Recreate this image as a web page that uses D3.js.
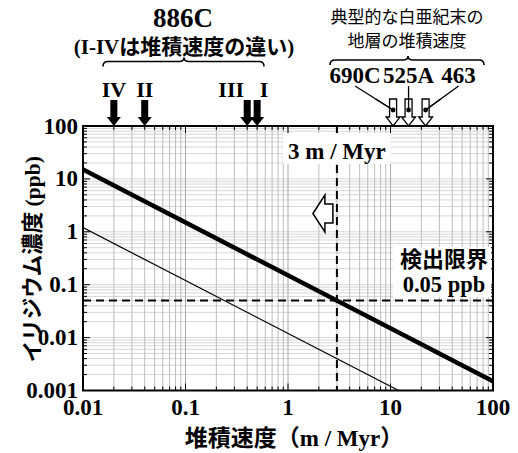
<!DOCTYPE html>
<html><head><meta charset="utf-8">
<script src="https://cdn.jsdelivr.net/npm/d3@7"></script>
<style>body{margin:0;background:#fff}svg{display:block}</style>
</head><body><svg id="chart" width="518" height="453"></svg>
<script>
// Axis ticks
const xTicks = [0.01, 0.1, 1, 10, 100];
const xTickLabels = ["0.01", "0.1", "1", "10", "100"];
const yTicks = [0.001, 0.01, 0.1, 1, 10, 100];
const yTickLabels = ["0.001", "0.01", "0.1", "1", "10", "100"];

// Sedimentation rates at Site 886C (intervals I-IV)
const site886Labels = ["IV", "II", "III", "I"];
const site886Rates = [0.02, 0.04, 0.4, 0.5];

// Typical end-Cretaceous sedimentation rates
const kpgSites = ["690C", "525A", "463"];
const kpgRates = [10.6, 15, 22];

// Iridium concentration vs sedimentation rate
const thickRates = [0.01, 100];
const thickIr = [15, 0.0015];
const thinRates = [0.01, 12];
const thinIr = [1.2, 0.001];

const detectionLimit = 0.05;
const criticalRate = 3;

const SERIF = "'Liberation Serif','Times New Roman','Noto Sans CJK JP',serif";
const CJK = "'Noto Sans CJK JP','Noto Sans CJK SC',sans-serif";

const svg = d3.select("#chart");
const L = 83, R = 493, T = 126, B = 390.5;
const x = d3.scaleLog().domain([0.01, 100]).range([L, R]);
const y = d3.scaleLog().domain([0.001, 100]).range([B, T]);

// all 1..9 multiples within each domain
function logSteps(lo, hi) {
  const out = [];
  for (let d = lo; d < hi * 0.999; d *= 10)
    for (let m = 1; m <= 9; m++) out.push(+(m * d).toPrecision(3));
  out.push(hi);
  return out;
}
const xGrid = logSteps(0.01, 100);
const yGrid = logSteps(0.001, 100);
const isMajor = v => Math.abs(Math.log10(v) - Math.round(Math.log10(v))) < 1e-6;

svg.append("clipPath").attr("id", "plot").append("rect")
  .attr("x", L).attr("y", T).attr("width", R - L).attr("height", B - T);

// grid
const grid = svg.append("g");
grid.selectAll("line.h").data(yGrid).join("line")
  .attr("x1", L).attr("x2", R).attr("y1", d => y(d)).attr("y2", d => y(d))
  .attr("stroke", "#d6d6d6").attr("stroke-width", 1);
grid.selectAll("line.v").data(xGrid).join("line")
  .attr("y1", T).attr("y2", B).attr("x1", d => x(d)).attr("x2", d => x(d))
  .attr("stroke", d => isMajor(d) ? "#a8a8a8" : "#bdbdbd").attr("stroke-width", 1);

// inward ticks on all four sides
const ticks = svg.append("g").attr("stroke", "#000").attr("stroke-width", 1);
yGrid.forEach(v => {
  const len = isMajor(v) ? 7 : 4;
  ticks.append("line").attr("x1", L).attr("x2", L + len).attr("y1", y(v)).attr("y2", y(v));
  ticks.append("line").attr("x1", R).attr("x2", R - len).attr("y1", y(v)).attr("y2", y(v));
});
xGrid.forEach(v => {
  const len = isMajor(v) ? 7 : 4;
  ticks.append("line").attr("y1", B).attr("y2", B - len).attr("x1", x(v)).attr("x2", x(v));
  ticks.append("line").attr("y1", T).attr("y2", T + len).attr("x1", x(v)).attr("x2", x(v));
});

// detection limit and critical rate
svg.append("line").attr("x1", L).attr("x2", R)
  .attr("y1", y(detectionLimit)).attr("y2", y(detectionLimit))
  .attr("stroke", "#000").attr("stroke-width", 2).attr("stroke-dasharray", "8,5");
svg.append("line").attr("y1", T).attr("y2", B)
  .attr("x1", x(criticalRate)).attr("x2", x(criticalRate))
  .attr("stroke", "#000").attr("stroke-width", 2).attr("stroke-dasharray", "8,5");

// concentration curves
const line = d3.line().x(d => x(d[0])).y(d => y(d[1]));
const curves = svg.append("g").attr("clip-path", "url(#plot)");
curves.append("path").attr("d", line(d3.zip(thickRates, thickIr)))
  .attr("fill", "none").attr("stroke", "#000").attr("stroke-width", 4.5);
curves.append("path").attr("d", line(d3.zip(thinRates, thinIr)))
  .attr("fill", "none").attr("stroke", "#000").attr("stroke-width", 1.2);

// frame
svg.append("rect").attr("x", L).attr("y", T).attr("width", R - L).attr("height", B - T)
  .attr("fill", "none").attr("stroke", "#000").attr("stroke-width", 2);

// "3 m / Myr" label
const cx = x(criticalRate);
svg.append("rect").attr("x", cx - 54).attr("y", T + 7).attr("width", 108).attr("height", 31).attr("fill", "#fff");
svg.append("text").attr("x", cx).attr("y", 159).attr("text-anchor", "middle")
  .attr("font-family", SERIF).attr("font-weight", "bold").attr("font-size", 23)
  .text("3 m / Myr");

// left-pointing open arrow
{
  const ax = cx - 4, ay = 213.5;
  const pts = [[ax, ay - 9.5], [ax - 8, ay - 9.5], [ax - 8, ay - 18.5], [ax - 20, ay],
               [ax - 8, ay + 18.5], [ax - 8, ay + 9.5], [ax, ay + 9.5]];
  svg.append("path").attr("d", "M" + pts.join("L") + "Z")
    .attr("fill", "#fff").attr("stroke", "#000").attr("stroke-width", 1.5);
}

// detection limit label
const dlx = 444;
svg.append("rect").attr("x", dlx - 51).attr("y", 247).attr("width", 98).attr("height", 50).attr("fill", "#fff");
svg.append("text").attr("x", dlx).attr("y", 267).attr("text-anchor", "middle")
  .attr("font-family", CJK).attr("font-weight", "bold").attr("font-size", 22).text("検出限界");
svg.append("text").attr("x", dlx).attr("y", 292).attr("text-anchor", "middle")
  .attr("font-family", SERIF).attr("font-weight", "bold").attr("font-size", 22.5).text("0.05 ppb");

// tick labels
svg.append("g").selectAll("text").data(xTicks).join("text")
  .attr("x", d => x(d)).attr("y", 415).attr("text-anchor", "middle")
  .attr("font-family", SERIF).attr("font-weight", "bold").attr("font-size", 23)
  .text((d, i) => xTickLabels[i]);
svg.append("g").selectAll("text").data(yTicks).join("text")
  .attr("x", 78).attr("y", d => y(d) + 7.5).attr("text-anchor", "end")
  .attr("font-family", SERIF).attr("font-weight", "bold").attr("font-size", 23)
  .text((d, i) => yTickLabels[i]);

// axis titles
svg.append("text").attr("x", 294).attr("y", 446).attr("text-anchor", "middle")
  .attr("font-family", SERIF).attr("font-weight", "bold").attr("font-size", 23)
  .text("堆積速度（m / Myr）");
svg.append("text").attr("transform", `translate(40,${(T + B) / 2 + 1}) rotate(-90)`)
  .attr("text-anchor", "middle")
  .attr("font-family", SERIF).attr("font-weight", "bold").attr("font-size", 21.5)
  .text("イリジウム濃度 (ppb)");

// curly brace opening downward
function brace(x0, x1, yb, tip) {
  const m = tip;
  return `M${x0},${yb + 5} Q${x0},${yb} ${x0 + 5},${yb} L${m - 5},${yb} Q${m},${yb} ${m},${yb - 4}` +
         ` Q${m},${yb} ${m + 5},${yb} L${x1 - 5},${yb} Q${x1},${yb} ${x1},${yb + 5}`;
}

// Site 886C header
svg.append("text").attr("x", 183).attr("y", 27).attr("text-anchor", "middle")
  .attr("font-family", SERIF).attr("font-weight", "bold").attr("font-size", 27).text("886C");
svg.append("text").attr("x", 184).attr("y", 53.5).attr("text-anchor", "middle")
  .attr("font-family", SERIF).attr("font-weight", "bold").attr("font-size", 21)
  .text("(I-IVは堆積速度の違い)");
svg.append("path").attr("d", brace(103, 264, 61.5, 184))
  .attr("fill", "none").attr("stroke", "#000").attr("stroke-width", 1.6);

const numeralShift = { "IV": 0, "II": 0, "III": -16, "I": 7 };
site886Rates.forEach((r, i) => {
  const ax = x(r);
  const pts = [[ax - 3.5, 100], [ax + 3.5, 100], [ax + 3.5, 117], [ax + 7, 117], [ax, 126],
               [ax - 7, 117], [ax - 3.5, 117]];
  svg.append("path").attr("d", "M" + pts.join("L") + "Z").attr("fill", "#000");
  svg.append("text").attr("x", ax + numeralShift[site886Labels[i]]).attr("y", 97)
    .attr("text-anchor", "middle").attr("font-family", SERIF).attr("font-weight", "bold")
    .attr("font-size", 22).text(site886Labels[i]);
});

// typical K-Pg sites header (two lines)
const kpgHead = svg.append("g").attr("text-anchor", "middle")
  .attr("font-family", CJK).attr("font-size", 17);
kpgHead.append("text").attr("x", 407).attr("y", 22.5).text("典型的な白亜紀末の");
kpgHead.append("text").attr("x", 407).attr("y", 47.3).text("地層の堆積速度");
svg.append("path").attr("d", brace(330, 484, 60, 408))
  .attr("fill", "none").attr("stroke", "#000").attr("stroke-width", 1.6);

const siteShift = { "690C": -38, "525A": 0, "463": 33 };
kpgRates.forEach((r, i) => {
  const ax = x(r);
  const lx = ax + siteShift[kpgSites[i]];
  svg.append("line").attr("x1", lx).attr("y1", 86).attr("x2", ax).attr("y2", 110)
    .attr("stroke", "#000").attr("stroke-width", 1.3);
  svg.append("text").attr("x", lx).attr("y", 83).attr("text-anchor", "middle")
    .attr("font-family", SERIF).attr("font-weight", "bold").attr("font-size", 23).text(kpgSites[i]);
});
kpgRates.forEach(r => {
  const ax = x(r);
  const pts = [[ax - 3.5, 99], [ax + 3.5, 99], [ax + 3.5, 117], [ax + 7, 117], [ax, 126],
               [ax - 7, 117], [ax - 3.5, 117]];
  svg.append("path").attr("d", "M" + pts.join("L") + "Z")
    .attr("fill", "#fff").attr("stroke", "#000").attr("stroke-width", 1.3);
  svg.append("circle").attr("cx", ax).attr("cy", 110).attr("r", 2.4).attr("fill", "#000");
});
// leader lines drawn above arrow bodies
kpgRates.forEach((r, i) => {
  const ax = x(r);
  const lx = ax + siteShift[kpgSites[i]];
  const t = (99 - 86) / (110 - 86);
  svg.append("line").attr("x1", lx + (ax - lx) * t).attr("y1", 99).attr("x2", ax).attr("y2", 110)
    .attr("stroke", "#000").attr("stroke-width", 1.3);
});
</script></body></html>
